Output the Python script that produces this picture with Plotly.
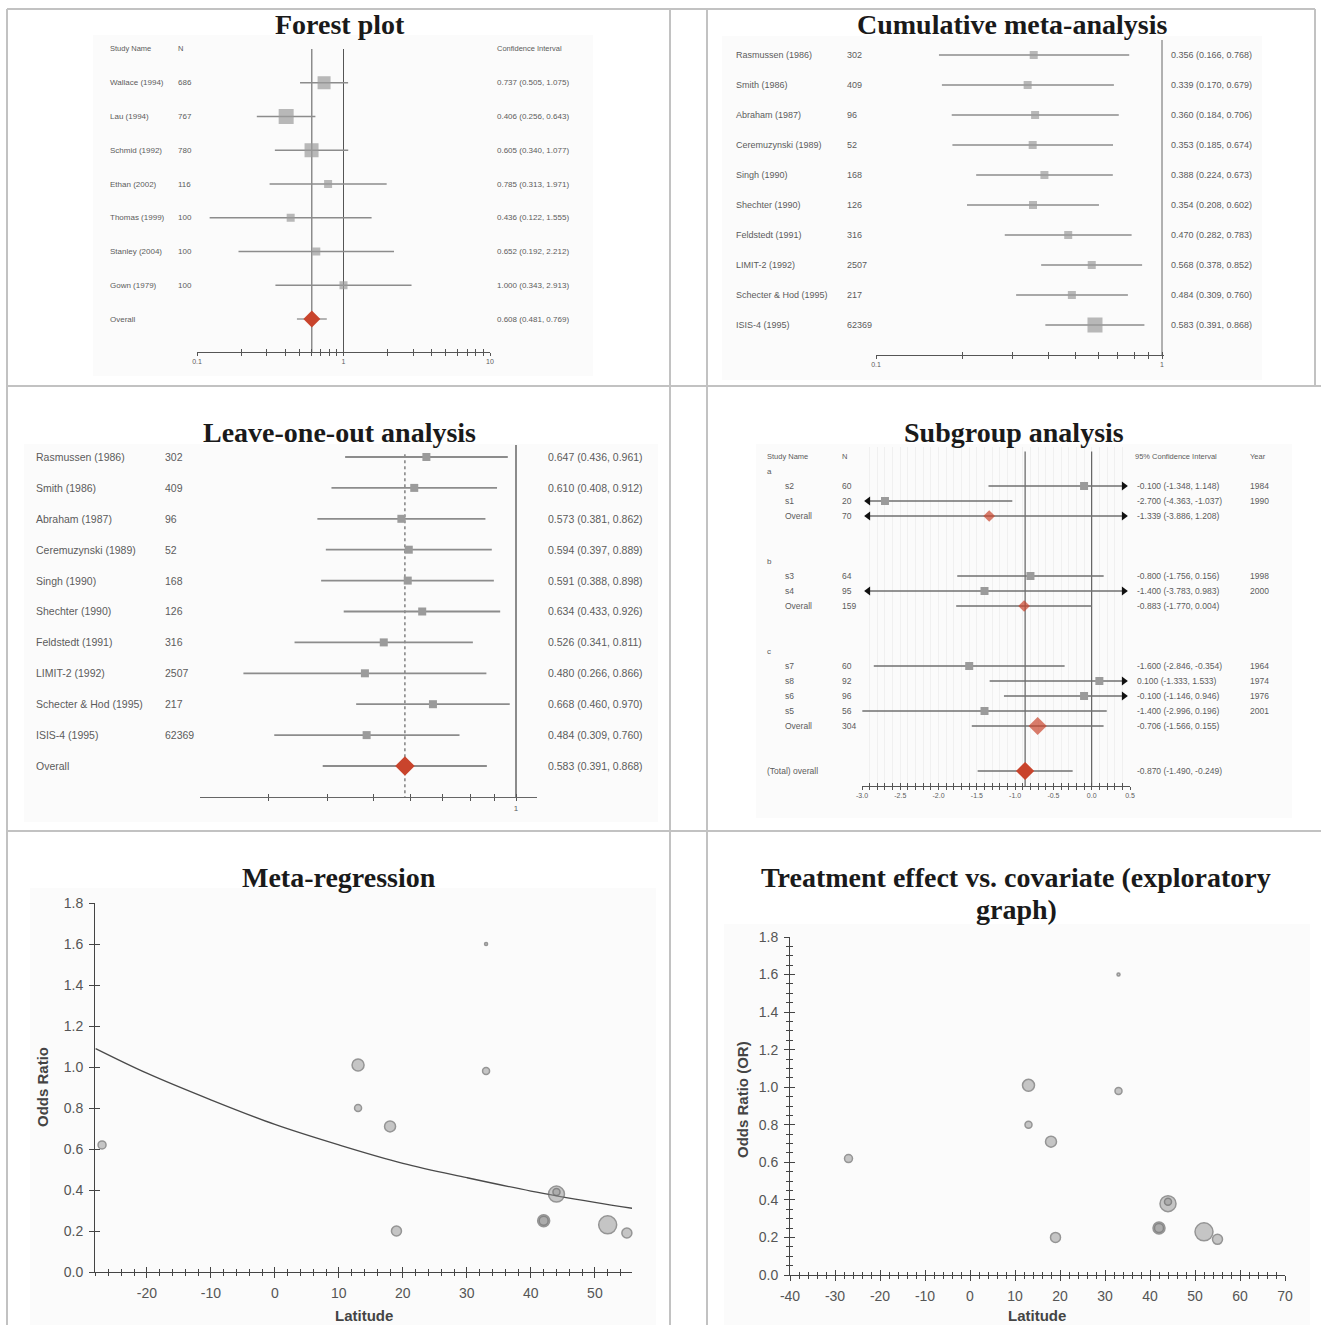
import plotly.graph_objects as go

W, H = 1321, 1325

# ====================== DATA ======================
# Forest plot
fp_names = ["Wallace (1994)", "Lau (1994)", "Schmid (1992)", "Ethan (2002)",
            "Thomas (1999)", "Stanley (2004)", "Gown (1979)"]
fp_n = [686, 767, 780, 116, 100, 100, 100]
fp_or = [0.737, 0.406, 0.605, 0.785, 0.436, 0.652, 1.000]
fp_lo = [0.505, 0.256, 0.340, 0.313, 0.122, 0.192, 0.343]
fp_hi = [1.075, 0.643, 1.077, 1.971, 1.555, 2.212, 2.913]
fp_overall = [0.608, 0.481, 0.769]
fp_ticklabels = {0.1: "0.1", 1: "1", 10: "10"}

# Cumulative meta-analysis
cm_names = ["Rasmussen (1986)", "Smith (1986)", "Abraham (1987)", "Ceremuzynski (1989)",
            "Singh (1990)", "Shechter (1990)", "Feldstedt (1991)", "LIMIT-2 (1992)",
            "Schecter & Hod (1995)", "ISIS-4 (1995)"]
cm_n = [302, 409, 96, 52, 168, 126, 316, 2507, 217, 62369]
cm_or = [0.356, 0.339, 0.360, 0.353, 0.388, 0.354, 0.470, 0.568, 0.484, 0.583]
cm_lo = [0.166, 0.170, 0.184, 0.185, 0.224, 0.208, 0.282, 0.378, 0.309, 0.391]
cm_hi = [0.768, 0.679, 0.706, 0.674, 0.673, 0.602, 0.783, 0.852, 0.760, 0.868]
cm_ticklabels = {0.1: "0.1", 1: "1"}

# Leave-one-out analysis
lo_names = cm_names
lo_n = cm_n
lo_or = [0.647, 0.610, 0.573, 0.594, 0.591, 0.634, 0.526, 0.480, 0.668, 0.484]
lo_lo = [0.436, 0.408, 0.381, 0.397, 0.388, 0.433, 0.341, 0.266, 0.460, 0.309]
lo_hi = [0.961, 0.912, 0.862, 0.889, 0.898, 0.926, 0.811, 0.866, 0.970, 0.760]
lo_overall = [0.583, 0.391, 0.868]
lo_ticks = [0.3, 0.4, 0.5, 0.6, 0.7, 0.8, 0.9, 1.0]
lo_ticklabels = {1.0: "1"}

# Subgroup analysis
sg_groups = ["a", "b", "c"]
sg_study = ["s2", "s1", "s3", "s4", "s7", "s8", "s6", "s5"]
sg_group = ["a", "a", "b", "b", "c", "c", "c", "c"]
sg_n = [60, 20, 64, 95, 60, 92, 96, 56]
sg_est = [-0.100, -2.700, -0.800, -1.400, -1.600, 0.100, -0.100, -1.400]
sg_lo = [-1.348, -4.363, -1.756, -3.783, -2.846, -1.333, -1.146, -2.996]
sg_hi = [1.148, -1.037, 0.156, 0.983, -0.354, 1.533, 0.946, 0.196]
sg_year = [1984, 1990, 1998, 2000, 1964, 1974, 1976, 2001]
sg_sub_n = [70, 159, 304]
sg_sub_est = [-1.339, -0.883, -0.706]
sg_sub_lo = [-3.886, -1.770, -1.566]
sg_sub_hi = [1.208, 0.004, 0.155]
sg_total = [-0.870, -1.490, -0.249]
sg_ticks = [-3.0, -2.5, -2.0, -1.5, -1.0, -0.5, 0.0, 0.5]

# Meta-regression / exploratory graph (latitude vs odds ratio)
mr_lat = [-27, 13, 13, 18, 19, 33, 33, 42, 42, 44, 44, 52, 55]
mr_or = [0.62, 1.01, 0.80, 0.71, 0.20, 1.60, 0.98, 0.25, 0.25, 0.38, 0.39, 0.23, 0.19]
mr_curve_lat = [-28, -20, -10, 0, 10, 20, 30, 40, 50, 56]
mr_curve_or = [1.09, 0.97, 0.84, 0.72, 0.62, 0.53, 0.46, 0.395, 0.34, 0.31]
mr_xticks = [-20, -10, 0, 10, 20, 30, 40, 50]
ex_xticks = [-40, -30, -20, -10, 0, 10, 20, 30, 40, 50, 60, 70]

# ====================== STYLE ======================
fp_box = [13, 15, 14, 8, 8, 8, 8]
cm_box = [8, 8, 8, 8, 8, 8, 8, 8, 8, 15]
mr_size = [8, 12, 7, 11, 10, 3, 7, 12, 9, 16, 7, 18, 10]

SANS = "Liberation Sans, Arial, sans-serif"
SERIF = "Liberation Serif, 'Times New Roman', serif"
TXT = "#5c5c5c"
MARK = "#9b9b9b"
CIC = "#8c8c8c"
AXC = "#555555"
RED = "#c9442c"


def px(x):
    return x / W


def py(y):
    return 1 - y / H


fig = go.Figure()
ann, shp, lay = [], [], {}


def label(xp, y, yref, s, size, anchor="left", color=TXT):
    ann.append(dict(x=px(xp), xref="paper", y=y, yref=yref, text=s, showarrow=False,
                    xanchor=anchor, yanchor="middle",
                    font=dict(family=SANS, size=size, color=color)))


def ptext(xp, yp, s, size, family=SANS, color=TXT, angle=0):
    ann.append(dict(x=px(xp), xref="paper", y=py(yp), yref="paper", text=s, showarrow=False,
                    xanchor="center", yanchor="middle", textangle=angle,
                    font=dict(family=family, size=size, color=color)))


def title(xp, yp, s):
    ptext(xp, yp, "<b>%s</b>" % s, 28, family=SERIF, color="#1a1a1a")


def ci_trace(lo, hi, rows, xa, ya, color=CIC, width=1.4):
    xs, ys = [], []
    for a, b, r in zip(lo, hi, rows):
        xs += [a, b, None]
        ys += [r, r, None]
    fig.add_trace(go.Scatter(x=xs, y=ys, mode="lines", line=dict(color=color, width=width),
                             xaxis=xa, yaxis=ya, hoverinfo="skip"))


def marks(x, rows, xa, ya, size, symbol="square", color=MARK):
    fig.add_trace(go.Scatter(x=x, y=rows, mode="markers",
                             marker=dict(symbol=symbol, size=size, color=color, line=dict(width=0)),
                             xaxis=xa, yaxis=ya, cliponaxis=False, hoverinfo="skip"))


def vline(xv, y0, y1, xa, ya, dash="solid", color=AXC, width=1):
    fig.add_trace(go.Scatter(x=[xv, xv], y=[y0, y1], mode="lines",
                             line=dict(color=color, width=width, dash=dash),
                             xaxis=xa, yaxis=ya, hoverinfo="skip"))


def row_axis(key, anchor, top, bottom, first, step):
    lay[key] = dict(domain=[py(bottom), py(top)],
                    range=[(bottom - first) / step, (top - first) / step],
                    anchor=anchor, visible=False)
    return lay[key]["range"]


def small_xaxis(key, anchor, left, right, rng, typ, tickvals, ticktext, size=8):
    lay[key] = dict(domain=[px(left), px(right)], range=rng, type=typ, anchor=anchor,
                    showline=True, linecolor=AXC, linewidth=1, ticks="outside", ticklen=3,
                    tickcolor=AXC, tickvals=tickvals, ticktext=ticktext,
                    tickfont=dict(family=SANS, size=size, color=TXT),
                    showgrid=False, zeroline=False)


def cross(base, new, anchor, letter):
    b = lay[base]
    d = dict(overlaying=("x" if letter == "x" else "y") + base[5:], anchor=anchor,
             ticks="inside", showticklabels=False, showline=False, showgrid=False,
             zeroline=False)
    for k in ("type", "range", "tickvals", "dtick", "tick0", "ticklen", "tickcolor", "side"):
        if k in b:
            d[k] = b[k]
    if "minor" in b:
        d["minor"] = dict(b["minor"], ticks="inside", showgrid=False)
    lay[new] = d
    nid = letter + new[5:]
    if letter == "x":
        fig.add_trace(go.Scatter(x=[None], y=[None], xaxis=nid, yaxis=anchor, hoverinfo="skip"))
    else:
        fig.add_trace(go.Scatter(x=[None], y=[None], xaxis=anchor, yaxis=nid, hoverinfo="skip"))


def fmt_ci(e, a, b):
    return "%.3f (%.3f, %.3f)" % (e, a, b)


# ---------- panel backgrounds and table borders ----------
for (x0, y0, x1, y1) in [(93, 35, 593, 376), (722, 36, 1262, 380), (24, 444, 658, 822),
                         (756, 444, 1292, 818), (30, 888, 656, 1325), (724, 924, 1310, 1325)]:
    shp.append(dict(type="rect", xref="paper", yref="paper", x0=px(x0), x1=px(x1),
                    y0=py(y1), y1=py(y0), fillcolor="#fbfbfb", line=dict(width=0), layer="below"))
BORDER = dict(color="#c2c2c2", width=2)
for (x0, y0, x1, y1) in [(7, 9, 1315, 9), (7, 386, 1321, 386), (7, 831, 1321, 831),
                         (7, 9, 7, 1325), (670, 9, 670, 1325), (707, 9, 707, 1325),
                         (1315, 9, 1315, 386)]:
    shp.append(dict(type="line", xref="paper", yref="paper", x0=px(x0), x1=px(x1),
                    y0=py(y0), y1=py(y1), line=BORDER))

# ====================== PANEL 1: FOREST PLOT ======================
title(340, 25, "Forest plot")
fp_rows = list(range(1, len(fp_names) + 1))
fp_orow = len(fp_names) + 1
yr = row_axis("yaxis", "x", 40, 352, 49, 33.75)
fp_ticks = [k * 10 ** e for e in (-1, 0) for k in range(1, 10)] + [10]
small_xaxis("xaxis", "y", 197, 490, [-1, 1], "log", fp_ticks,
            [fp_ticklabels.get(round(v, 3), "") for v in fp_ticks], size=7)
cross("xaxis", "xaxis7", "y", "x")
vline(1, 0, yr[0], "x", "y")
vline(fp_overall[0], 0, yr[0], "x", "y")
ci_trace(fp_lo + [fp_overall[1]], fp_hi + [fp_overall[2]], fp_rows + [fp_orow], "x", "y", width=1.3)
marks(fp_or, fp_rows, "x", "y", fp_box)
marks([fp_overall[0]], [fp_orow], "x", "y", 13, symbol="diamond", color=RED)
label(108, 0, "y", "Study Name", 7.5)
label(176, 0, "y", "N", 7.5)
label(495, 0, "y", "Confidence Interval", 7.5)
for r, nm, n, e, a, b in zip(fp_rows, fp_names, fp_n, fp_or, fp_lo, fp_hi):
    label(108, r, "y", nm, 8)
    label(176, r, "y", str(n), 8)
    label(495, r, "y", fmt_ci(e, a, b), 8)
label(108, fp_orow, "y", "Overall", 8)
label(495, fp_orow, "y", fmt_ci(*fp_overall), 8)

# ====================== PANEL 2: CUMULATIVE ======================
title(1012, 25, "Cumulative meta-analysis")
cm_rows = list(range(len(cm_names)))
yr = row_axis("yaxis2", "x2", 40, 355, 55, 30)
cm_ticks = [round(0.1 * k, 1) for k in range(1, 11)]
small_xaxis("xaxis2", "y2", 876, 1164, [-1, 0.007], "log", cm_ticks,
            [cm_ticklabels.get(v, "") for v in cm_ticks], size=7)
cross("xaxis2", "xaxis8", "y2", "x")
vline(1, yr[1], yr[0], "x2", "y2", color="#666")
ci_trace(cm_lo, cm_hi, cm_rows, "x2", "y2", width=1.4)
marks(cm_or, cm_rows, "x2", "y2", cm_box)
for r, nm, n, e, a, b in zip(cm_rows, cm_names, cm_n, cm_or, cm_lo, cm_hi):
    label(734, r, "y2", nm, 9)
    label(845, r, "y2", str(n), 9)
    label(1169, r, "y2", fmt_ci(e, a, b), 9)

# ====================== PANEL 3: LEAVE-ONE-OUT ======================
title(339, 432, "Leave-one-out analysis")
lo_rows = list(range(len(lo_names)))
lo_orow = len(lo_names)
yr = row_axis("yaxis3", "x3", 445, 797, 457, 30.9)
small_xaxis("xaxis3", "y3", 200, 537, [-0.6667, 0.0443], "log", lo_ticks,
            [lo_ticklabels.get(v, "") for v in lo_ticks], size=8)
lay["xaxis3"]["linecolor"] = "#666"
cross("xaxis3", "xaxis9", "y3", "x")
vline(1, yr[1], yr[0], "x3", "y3", color="#666", width=1.5)
vline(lo_overall[0], yr[1] + 0.3, yr[0], "x3", "y3", dash="dot", color="#444")
ci_trace(lo_lo + [lo_overall[1]], lo_hi + [lo_overall[2]], lo_rows + [lo_orow], "x3", "y3",
         width=1.8)
marks(lo_or, lo_rows, "x3", "y3", 8)
marks([lo_overall[0]], [lo_orow], "x3", "y3", 15, symbol="diamond", color=RED)
for r, nm, n, e, a, b in zip(lo_rows, lo_names, lo_n, lo_or, lo_lo, lo_hi):
    label(34, r, "y3", nm, 10.5)
    label(163, r, "y3", str(n), 10.5)
    label(546, r, "y3", fmt_ci(e, a, b), 10.5)
label(34, lo_orow, "y3", "Overall", 10.5)
label(546, lo_orow, "y3", fmt_ci(*lo_overall), 10.5)

# ====================== PANEL 4: SUBGROUP ======================
title(1014, 432, "Subgroup analysis")
yr = row_axis("yaxis4", "x4", 447, 786, 456, 15)
lay["xaxis4"] = dict(domain=[px(862), px(1130)], range=[-3.0, 0.5], anchor="y4",
                     showline=True, linecolor=AXC, linewidth=1, ticks="outside", ticklen=3,
                     tickcolor=AXC, tickvals=sg_ticks, ticktext=["%.1f" % v for v in sg_ticks],
                     minor=dict(dtick=0.1, tick0=0, ticks="outside", ticklen=3, tickcolor=AXC,
                                showgrid=True, gridcolor="#f0f0f0"),
                     showgrid=True, gridcolor="#f0f0f0",
                     tickfont=dict(family=SANS, size=7, color=TXT), zeroline=False)
cross("xaxis4", "xaxis10", "y4", "x")
XMIN, XMAX = lay["xaxis4"]["range"]
AR_L, AR_R = XMIN + 0.08, XMAX - 0.08

label(765, 0, "y4", "Study Name", 7.5)
label(840, 0, "y4", "N", 7.5)
label(1133, 0, "y4", "95% Confidence Interval", 7.5)
label(1248, 0, "y4", "Year", 7.5)

st_rows, sub_rows = [], []
r = 1
for gi, g in enumerate(sg_groups):
    label(765, r, "y4", g, 8)
    r += 1
    for i, gg in enumerate(sg_group):
        if gg == g:
            st_rows.append(r)
            label(783, r, "y4", sg_study[i], 8.5)
            label(840, r, "y4", str(sg_n[i]), 8.5)
            label(1135, r, "y4", fmt_ci(sg_est[i], sg_lo[i], sg_hi[i]), 8.5)
            label(1248, r, "y4", str(sg_year[i]), 8.5)
            r += 1
    sub_rows.append(r)
    label(783, r, "y4", "Overall", 8.5)
    label(840, r, "y4", str(sg_sub_n[gi]), 8.5)
    label(1135, r, "y4", fmt_ci(sg_sub_est[gi], sg_sub_lo[gi], sg_sub_hi[gi]), 8.5)
    r += 3
tot_row = r
label(765, tot_row, "y4", "(Total) overall", 8.5)
label(1135, tot_row, "y4", fmt_ci(*sg_total), 8.5)

vline(0, yr[1] + 0.3, yr[0], "x4", "y4", color="#444")
vline(sg_total[0], yr[1] + 0.3, yr[0], "x4", "y4", color="#444")

all_lo = sg_lo + sg_sub_lo + [sg_total[1]]
all_hi = sg_hi + sg_sub_hi + [sg_total[2]]
all_rows = st_rows + sub_rows + [tot_row]
ci_trace([max(a, AR_L) if a < XMIN else a for a in all_lo],
         [min(b, AR_R) if b > XMAX else b for b in all_hi], all_rows, "x4", "y4",
         color="#707070", width=1.3)
left_rows = [rr for a, rr in zip(all_lo, all_rows) if a < XMIN]
right_rows = [rr for b, rr in zip(all_hi, all_rows) if b > XMAX]
marks([AR_L] * len(left_rows), left_rows, "x4", "y4", 8, symbol="triangle-left", color="#111")
marks([AR_R] * len(right_rows), right_rows, "x4", "y4", 8, symbol="triangle-right", color="#111")
marks(sg_est, st_rows, "x4", "y4", 8)
marks(sg_sub_est, sub_rows, "x4", "y4", [9, 9, 14], symbol="diamond", color=RED)
marks([sg_total[0]], [tot_row], "x4", "y4", 14, symbol="diamond", color=RED)

# ====================== PANEL 5: META-REGRESSION ======================
title(339, 877, "Meta-regression")
TICKF = dict(family=SANS, size=14, color="#555")
lay["xaxis5"] = dict(domain=[px(95), px(632)], range=[-28.1, 55.8], anchor="y5",
                     showline=True, linecolor="#444", linewidth=1, ticks="outside", ticklen=5,
                     tickcolor="#444", tickvals=mr_xticks, ticktext=[str(v) for v in mr_xticks],
                     minor=dict(dtick=2, tick0=0, ticks="outside", ticklen=3, tickcolor="#444"),
                     tickfont=TICKF, showgrid=False, zeroline=False, ticklabelstandoff=3)
lay["yaxis5"] = dict(domain=[py(1272), py(903)], range=[0, 1.8], anchor="x5",
                     showline=True, linecolor="#444", linewidth=1, ticks="outside", ticklen=5,
                     tickcolor="#444", dtick=0.2, tick0=0, tickformat=".1f",
                     tickfont=TICKF, showgrid=False, zeroline=False, ticklabelstandoff=3)
cross("xaxis5", "xaxis11", "y5", "x")
cross("yaxis5", "yaxis7", "x5", "y")
fig.add_trace(go.Scatter(x=mr_curve_lat, y=mr_curve_or, mode="lines",
                         line=dict(color="#4a4a4a", width=1.3, shape="spline"),
                         xaxis="x5", yaxis="y5", hoverinfo="skip"))
BUB = dict(color="rgba(150,150,150,0.75)", line=dict(color="#6a6a6a", width=1.5))
fig.add_trace(go.Scatter(x=mr_lat, y=mr_or, mode="markers", marker=dict(size=mr_size, **BUB),
                         xaxis="x5", yaxis="y5", cliponaxis=False, hoverinfo="skip"))
ptext(42, 1087, "<b>Odds Ratio</b>", 15, color="#444", angle=-90)
ptext(364, 1315, "<b>Latitude</b>", 15, color="#444")

# ====================== PANEL 6: EXPLORATORY ======================
title(1016, 877, "Treatment effect vs. covariate (exploratory")
title(1016, 909, "graph)")
lay["xaxis6"] = dict(domain=[px(790), px(1285)], range=[-40, 70], anchor="y6",
                     showline=True, linecolor="#444", linewidth=1, ticks="outside", ticklen=5,
                     tickcolor="#444", tickvals=ex_xticks, ticktext=[str(v) for v in ex_xticks],
                     minor=dict(dtick=2, tick0=0, ticks="outside", ticklen=3, tickcolor="#444"),
                     tickfont=TICKF, showgrid=False, zeroline=False, ticklabelstandoff=3)
lay["yaxis6"] = dict(domain=[py(1275), py(937)], range=[0, 1.8], anchor="x6",
                     showline=True, linecolor="#444", linewidth=1, ticks="outside", ticklen=5,
                     tickcolor="#444", dtick=0.2, tick0=0, tickformat=".1f",
                     minor=dict(dtick=0.05, tick0=0, ticks="outside", ticklen=3, tickcolor="#444"),
                     tickfont=TICKF, showgrid=False, zeroline=False, ticklabelstandoff=3)
cross("xaxis6", "xaxis12", "y6", "x")
cross("yaxis6", "yaxis8", "x6", "y")
fig.add_trace(go.Scatter(x=mr_lat, y=mr_or, mode="markers", marker=dict(size=mr_size, **BUB),
                         xaxis="x6", yaxis="y6", cliponaxis=False, hoverinfo="skip"))
ptext(742, 1100, "<b>Odds Ratio (OR)</b>", 15, color="#444", angle=-90)
ptext(1037, 1315, "<b>Latitude</b>", 15, color="#444")

for k in lay:
    lay[k]["automargin"] = False

fig.update_layout(width=W, height=H, margin=dict(l=0, r=0, t=0, b=0, pad=0, autoexpand=False),
                  paper_bgcolor="white", plot_bgcolor="rgba(0,0,0,0)", showlegend=False,
                  hovermode=False, annotations=ann, shapes=shp, **lay)
fig.write_html("out.html", config={"displayModeBar": False, "staticPlot": True},
               post_script="document.body.style.margin='0';document.body.style.padding='0';"
                           "document.body.style.overflow='hidden';")
